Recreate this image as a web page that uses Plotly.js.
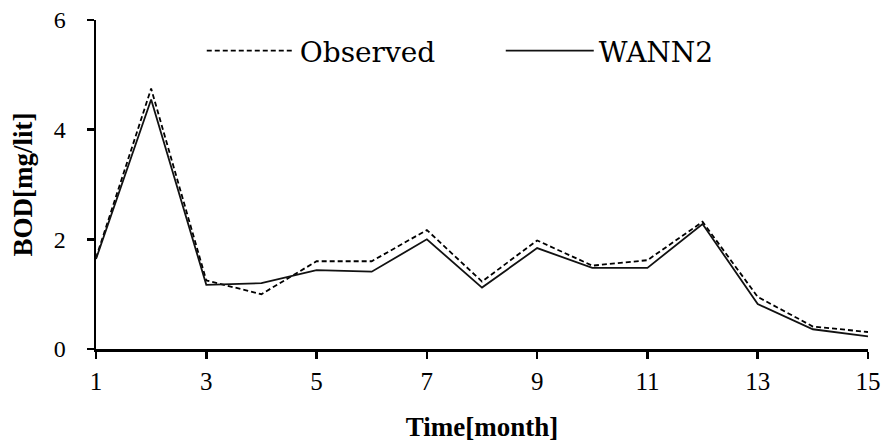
<!DOCTYPE html>
<html>
<head>
<meta charset="utf-8">
<script src="https://cdn.plot.ly/plotly-3.0.1.min.js"></script>
<style>html,body{margin:0;padding:0;background:#fff;}#chart{width:883px;height:445px;}</style>
</head>
<body>
<div id="chart"></div>
<script>
const months = [1,2,3,4,5,6,7,8,9,10,11,12,13,14,15];
const observed = [1.66,4.75,1.25,1.0,1.6,1.6,2.17,1.23,1.98,1.52,1.62,2.32,0.95,0.41,0.31];
const wann2 = [1.64,4.55,1.17,1.2,1.44,1.41,2.0,1.12,1.84,1.48,1.48,2.28,0.82,0.36,0.23];
const xTicks = [1,3,5,7,9,11,13,15];
const yTicks = [0,2,4,6];

const font = 'Liberation Serif, Times New Roman, serif';
const legendFont = 'DejaVu Serif, serif';
const traces = [
  {x: months, y: observed, name: 'Observed', mode: 'lines', type: 'scatter',
   line: {color: '#000', width: 1.8, dash: '5px,3px'}},
  {x: months, y: wann2, name: 'WANN2', mode: 'lines', type: 'scatter',
   line: {color: '#111', width: 1.8}}
];
const layout = {
  width: 883, height: 445,
  margin: {l: 96, r: 15, t: 20, b: 96},
  paper_bgcolor: '#fff', plot_bgcolor: '#fff',
  font: {family: font, color: '#000', size: 24},
  showlegend: true,
  legend: {orientation: 'h', x: 0.137, xanchor: 'left', y: 0.906, yanchor: 'middle',
           font: {family: legendFont, size: 28, color: '#000'}, itemwidth: 88,
           entrywidth: 196, entrywidthmode: 'pixels', bgcolor: 'rgba(0,0,0,0)'},
  xaxis: {range: [1, 15], tickmode: 'array', tickvals: xTicks, ticktext: xTicks.map(String),
          showgrid: false, zeroline: false, showline: true, linecolor: '#000', linewidth: 2.5,
          ticks: 'outside', ticklen: 7, tickwidth: 2.5, tickcolor: '#000', ticklabelstandoff: 1,
          ticklabeloverflow: 'allow',
          tickfont: {family: font, size: 25},
          title: {text: '<b>Time[month]</b>', font: {family: font, size: 27}, standoff: 24}},
  yaxis: {range: [0, 6], tickmode: 'array', tickvals: yTicks, ticktext: yTicks.map(String),
          showgrid: false, zeroline: false, showline: true, linecolor: '#000', linewidth: 2.5,
          ticks: 'outside', ticklen: 7, tickwidth: 2.5, tickcolor: '#000', ticklabelstandoff: 16,
          tickfont: {family: font, size: 24},
          title: {text: '\u00a0\u00a0\u00a0\u00a0\u00a0\u00a0\u00a0\u00a0<b>BOD[mg/lit]</b>', font: {family: font, size: 27}, standoff: 14}}
};
Plotly.newPlot('chart', traces, layout, {displayModeBar: false, staticPlot: true});
</script>
</body>
</html>
